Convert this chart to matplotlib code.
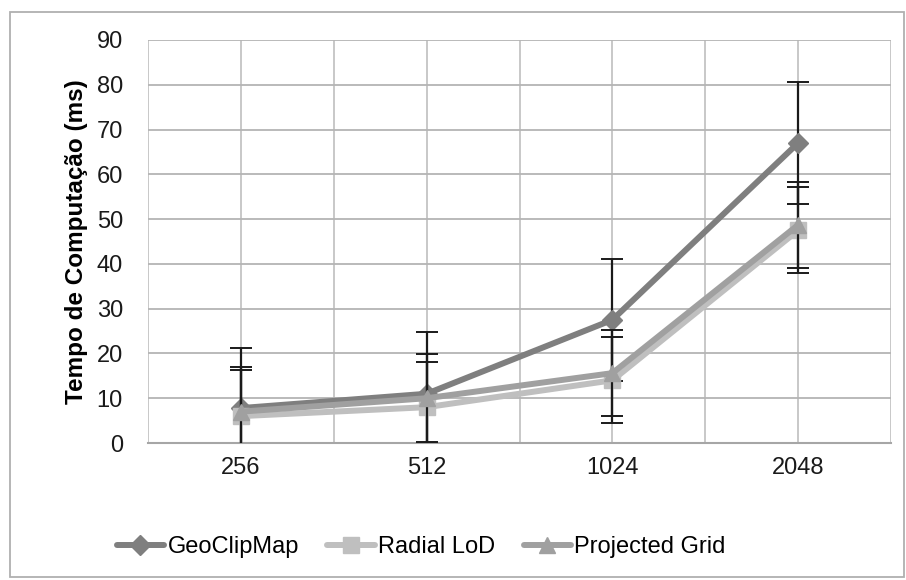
import numpy as np
import matplotlib
matplotlib.use("Agg")
import matplotlib.pyplot as plt
from matplotlib.patches import Rectangle

# ── Data ─────────────────────────────────────────────────────────────────────
sizes = ["256", "512", "1024", "2048"]

geo_mean = [7.8, 11.0, 27.5, 67.0]
geo_err = [13.5, 13.8, 13.6, 13.6]

radial_mean = [6.0, 8.0, 14.0, 47.5]
radial_err = [10.2, 10.0, 9.6, 9.6]

proj_mean = [7.0, 10.0, 15.6, 48.7]
proj_err = [10.0, 9.8, 9.6, 9.6]

plt.rcParams.update({
    "font.family": ["Liberation Sans", "DejaVu Sans"],
    "font.size": 17,
})

fig = plt.figure(figsize=(9.06, 5.8), dpi=100)
ax = fig.add_axes([148 / 906, 137 / 580, 743 / 906, 403 / 580])

x = np.arange(len(sizes))
series = [
    ("GeoClipMap", geo_mean, geo_err, "#7f7f7f", "D", 10),
    ("Radial LoD", radial_mean, radial_err, "#bfbfbf", "s", 11),
    ("Projected Grid", proj_mean, proj_err, "#a0a0a0", "^", 12),
]

for i, (name, m, e, col, mk, ms) in enumerate(series):
    ax.errorbar(x, m, yerr=e, fmt="none", ecolor="#1a1a1a", elinewidth=1.6,
                capsize=8, capthick=1.4, zorder=2 + i * 2)
    ax.plot(x, m, color=col, lw=4.3, marker=mk, markersize=ms,
            markeredgecolor=col, label=name, zorder=3 + i * 2,
            solid_capstyle="round")

ax.set_xlim(-0.5, 3.5)
ax.set_ylim(0, 90)
ax.set_yticks(np.arange(0, 91, 10))
ax.set_xticks(x)
ax.set_xticklabels(sizes)
ax.set_xticks(np.arange(-0.5, 3.6, 1.0), minor=True)

ax.grid(True, which="major", axis="y", color="#b4b4b4", lw=1.3)
ax.grid(True, which="minor", axis="x", color="#c4c4c4", lw=1.3)
ax.grid(True, which="major", axis="x", color="#c4c4c4", lw=1.3)
ax.set_axisbelow(True)

for s in ["top", "right", "left"]:
    ax.spines[s].set_visible(False)
ax.spines["bottom"].set_color("#a6a6a6")
ax.spines["bottom"].set_linewidth(1.5)

ax.tick_params(axis="both", which="both", length=0, colors="#1a1a1a")
ax.tick_params(axis="y", pad=18)
ax.tick_params(axis="x", pad=10)

ax.set_ylabel("Tempo de Computação (ms)", fontweight="bold", labelpad=6,
              fontsize=17.5)

fig.legend(loc="center", bbox_to_anchor=(0.465, 33 / 580), ncol=3,
           frameon=False, handlelength=2.0, columnspacing=1.2,
           handletextpad=0.15, fontsize=17)

# chart frame
fig.patches.append(Rectangle((10 / 906, 3 / 580), 894 / 906, 565 / 580,
                             transform=fig.transFigure, fill=False,
                             edgecolor="#b0b0b0", lw=1.3))

fig.savefig("out.png", dpi=100)
